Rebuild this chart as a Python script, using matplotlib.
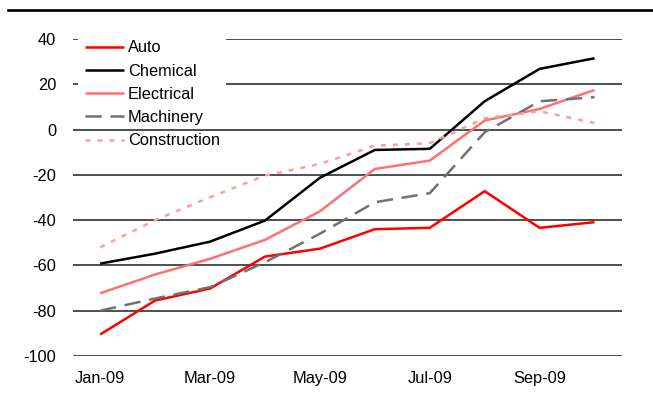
import matplotlib
matplotlib.use('Agg')
import matplotlib.pyplot as plt
from matplotlib.lines import Line2D
from matplotlib.patches import Rectangle

plt.rcParams['font.family'] = ['Liberation Sans', 'DejaVu Sans']
plt.rcParams['axes.unicode_minus'] = False

months = ['Jan-09', 'Feb-09', 'Mar-09', 'Apr-09', 'May-09',
          'Jun-09', 'Jul-09', 'Aug-09', 'Sep-09', 'Oct-09']
auto = [-90.5, -75.5, -70.2, -56.1, -52.6, -44.0, -43.4, -27.2, -43.4, -40.9]
chemical = [-59.2, -54.8, -49.5, -40.2, -21.3, -9.0, -8.5, 12.5, 26.8, 31.5]
electrical = [-72.3, -64.0, -57.1, -48.7, -36.1, -17.4, -13.7, 4.0, 9.1, 17.5]
machinery = [-80.0, -74.6, -69.6, -58.6, -46.0, -32.1, -28.1, -1.2, 12.5, 14.3]
construction = [-52.0, -40.0, -29.9, -20.3, -15.2, -7.1, -6.0, 5.0, 8.1, 2.9]

W, H = 653, 403
fig = plt.figure(figsize=(W / 100, H / 100), dpi=100)
ax = fig.add_axes([72.7 / W, 1 - 356 / H, 549.3 / W, 317 / H])

x = list(range(len(months)))
series = [
    ('Auto', auto, dict(color='#ff0000', lw=1.8)),
    ('Chemical', chemical, dict(color='#000000', lw=1.8)),
    ('Electrical', electrical, dict(color='#ff7070', lw=1.8)),
    ('Machinery', machinery, dict(color='#707070', lw=1.8, dashes=(6.5, 3.5))),
    ('Construction', construction, dict(color='#ff9c9c', lw=1.8, dashes=(2.0, 2.8))),
]
for name, vals, style in series:
    ax.plot(x, vals, label=name, zorder=3, solid_capstyle='butt',
            dash_capstyle='butt', **style)

ax.set_xlim(-0.5, len(months) - 0.5)
ax.set_ylim(-100, 40)
ax.set_yticks(range(-100, 41, 20))
ax.set_xticks(x[::2])
ax.set_xticklabels(months[::2])
for v in range(-100, 41, 20):
    ax.axhline(v, color='#303030', lw=1.2, zorder=1)
for s in ax.spines.values():
    s.set_visible(False)
ax.tick_params(axis='both', length=0, labelsize=11.8, colors='black')
ax.tick_params(axis='y', pad=12)
ax.tick_params(axis='x', pad=11)

# white block behind the legend hides the upper gridlines
ax.add_patch(Rectangle((5.3 / 549.3, 0.735), (226 - 78) / 549.3, 0.3,
                       transform=ax.transAxes, facecolor='white',
                       edgecolor='none', zorder=2, clip_on=False))

leg = ax.legend(loc='upper left', bbox_to_anchor=(85 / W, 1 - 40.5 / H),
                bbox_transform=fig.transFigure, frameon=False, fontsize=11.8,
                handlelength=2.4, handletextpad=0.22, labelspacing=0.5,
                borderpad=0, borderaxespad=0)
leg.set_zorder(4)

# heavy rule across the top of the figure
fig.add_artist(Line2D([8 / W, 1], [1 - 9.5 / H] * 2, color='black', lw=1.9,
                      transform=fig.transFigure))

fig.savefig('out.png', dpi=100)
